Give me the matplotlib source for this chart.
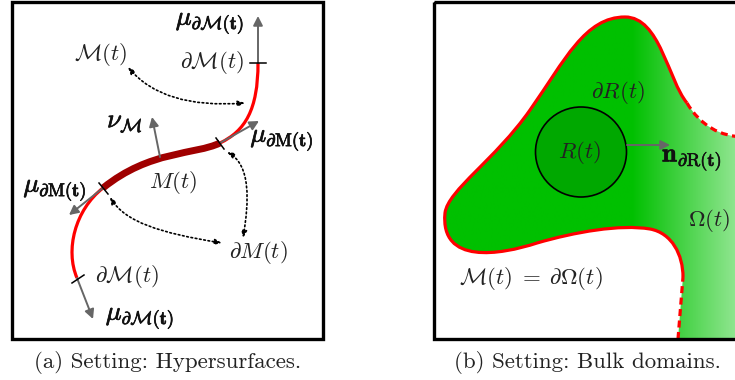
import numpy as np
import matplotlib
matplotlib.use("Agg")
import matplotlib.pyplot as plt
from matplotlib.path import Path
from matplotlib.patches import PathPatch, FancyArrowPatch, Ellipse, Rectangle
from matplotlib.colors import LinearSegmentedColormap
import matplotlib.patheffects as pe

plt.rcParams['mathtext.fontset'] = 'cm'

M4, C3, L2 = Path.MOVETO, Path.CURVE4, Path.CURVE3

# label text and where it sits (pixel coordinates, y downwards)
leftLabels = [r'$\mathcal{M}(t)$', r'$\partial\mathcal{M}(t)$', r'$\partial M(t)$',
              r'$M(t)$', r'$\partial\mathcal{M}(t)$']
leftLabelPos = [(101, 55), (212, 62), (258, 253), (173, 183), (127, 277)]
boldLabels = [r'$\mu_{\partial\mathcal{M}(\mathbf{t})}$', r'$\nu_{\mathcal{M}}$',
              r'$\mu_{\partial\mathrm{M}(\mathbf{t})}$', r'$\mu_{\partial\mathrm{M}(\mathbf{t})}$',
              r'$\mu_{\partial\mathcal{M}(\mathbf{t})}$']
boldLabelPos = [(210, 23), (125, 121), (282, 140), (55, 190), (140, 318)]
rightLabels = [r'$\partial R(t)$', r'$R(t)$', r'$\Omega(t)$', r'$\mathcal{M}(t)\;=\;\partial\Omega(t)$']
rightLabelPos = [(618, 92), (580, 152), (709, 221), (531, 279)]
captions = ['(a) Setting: Hypersurfaces.', '(b) Setting: Bulk domains.']
captionPos = [(168, 362), (587, 362)]

GREY = '#666666'
FS = 16.5
FSB = 19

fig = plt.figure(figsize=(7.35, 3.8), dpi=100)
ax = fig.add_axes([0, 0, 1, 1])
ax.set_xlim(0, 735)
ax.set_ylim(380, 0)
ax.axis('off')


def curve(verts, codes, **kw):
    p = PathPatch(Path(verts, codes), fill=False, **kw)
    ax.add_patch(p)
    return p


def greyArrow(a, b):
    ax.add_patch(FancyArrowPatch(a, b, arrowstyle='-|>,head_length=0.55,head_width=0.28',
                                 mutation_scale=10, color=GREY, lw=1.4, shrinkA=0, shrinkB=0))


def dottedArrow(verts, codes):
    ax.add_patch(FancyArrowPatch(path=Path(verts, codes),
                                 arrowstyle='<|-|>,head_length=0.4,head_width=0.16',
                                 mutation_scale=10, color='black', lw=1.2,
                                 linestyle=(0, (1, 1.6))))


def tick(a, b):
    ax.plot([a[0], b[0]], [a[1], b[1]], color='black', lw=1.1)


# ---- panel (a): hypersurfaces ----
ax.add_patch(Rectangle((12, 2), 311, 337, fill=False, lw=2.4, ec='black'))

curve([(258, 63), (258, 110), (245, 131), (220, 143)], [M4, C3, C3, C3],
      ec='red', lw=2.3, capstyle='butt')
curve([(220, 143), (195, 155), (150, 150), (103, 188)], [M4, C3, C3, C3],
      ec='#a00000', lw=5.0, capstyle='butt')
curve([(103, 188), (75, 210), (65, 250), (77, 278)], [M4, C3, C3, C3],
      ec='red', lw=2.3, capstyle='butt')

greyArrow((258, 63), (258, 16))
greyArrow((160, 157), (152, 117))
greyArrow((220, 143), (259, 121))
greyArrow((103, 188), (69, 215))
greyArrow((77, 278), (93, 319))

tick((250, 63), (266, 63))
tick((216, 138), (224, 149))
tick((99, 183), (108, 194))
tick((72, 283), (84, 275))

dottedArrow([(128, 67), (163, 109), (245, 103)], [M4, L2, L2])
dottedArrow([(227, 152), (251, 165), (249, 202), (243, 238)], [M4, C3, C3, C3])
dottedArrow([(110, 197), (125, 222), (160, 233), (222, 243)], [M4, C3, C3, C3])

for s, (x, y) in zip(leftLabels, leftLabelPos):
    ax.text(x, y, s, fontsize=FS, ha='center', va='center', color='#222222')
for s, (x, y) in zip(boldLabels, boldLabelPos):
    ax.text(x, y, s, fontsize=FSB, ha='center', va='center', color='#111111',
            path_effects=[pe.withStroke(linewidth=0.5, foreground='#111111')])

# ---- panel (b): bulk domain ----
boundary = [(678, 339), (683, 277),
            (683, 255), (672, 233), (650, 229),
            (620, 224), (575, 232), (537, 243),
            (500, 255), (440, 265), (445, 213),
            (448, 190), (495, 160), (530, 110),
            (565, 60), (585, 17), (625, 17),
            (660, 17), (668, 80), (687, 103),
            (700, 125), (720, 137), (745, 137),
            (745, 339), (678, 339)]
bcodes = [M4, Path.LINETO] + [C3] * 21 + [Path.LINETO, Path.CLOSEPOLY]
domain = PathPatch(Path(boundary, bcodes), fc='none', ec='none')
ax.add_patch(domain)

shade = LinearSegmentedColormap.from_list('shade', [(0, '#00c000'), (0.66, '#00c000'), (1, '#8ee58e')])
img = ax.imshow(np.linspace(0, 1, 256).reshape(1, -1), cmap=shade, aspect='auto',
                extent=(433, 735, 339, 0), interpolation='bilinear', zorder=1)
img.set_clip_path(domain)

curve(boundary[1:20], [M4] + [C3] * 18, ec='red', lw=2.3, zorder=3)
curve(boundary[19:23], [M4, C3, C3, C3], ec='red', lw=2.3, ls=(0, (2.2, 1.4)), zorder=3)
curve([(678, 339), (683, 277)], [M4, Path.LINETO], ec='red', lw=2.3, ls=(0, (2.2, 1.4)), zorder=3)

ax.add_patch(Ellipse((581, 152), 91, 90, fc='#00a800', ec='black', lw=1.2, zorder=3))
ax.add_patch(FancyArrowPatch((627, 145), (670, 145), arrowstyle='-|>,head_length=0.55,head_width=0.28',
                             mutation_scale=10, color=GREY, lw=1.4, shrinkA=0, shrinkB=0, zorder=4))
ax.text(692, 160, r'$\mathbf{n}_{\partial\mathrm{R}(\mathbf{t})}$', fontsize=FSB, ha='center', va='center',
        color='#111111', zorder=5, path_effects=[pe.withStroke(linewidth=0.4, foreground='#111111')])
for s, (x, y) in zip(rightLabels, rightLabelPos):
    ax.text(x, y, s, fontsize=FS, ha='center', va='center', color='#222222', zorder=5)

ax.add_patch(Rectangle((434, 2), 330, 337, fill=False, lw=2.4, ec='black', zorder=6, clip_on=False))

for s, (x, y) in zip(captions, captionPos):
    ax.text(x, y, s, fontsize=FS, ha='center', va='center', family='cmr10', color='#222222')

fig.savefig('out.png', dpi=100)
